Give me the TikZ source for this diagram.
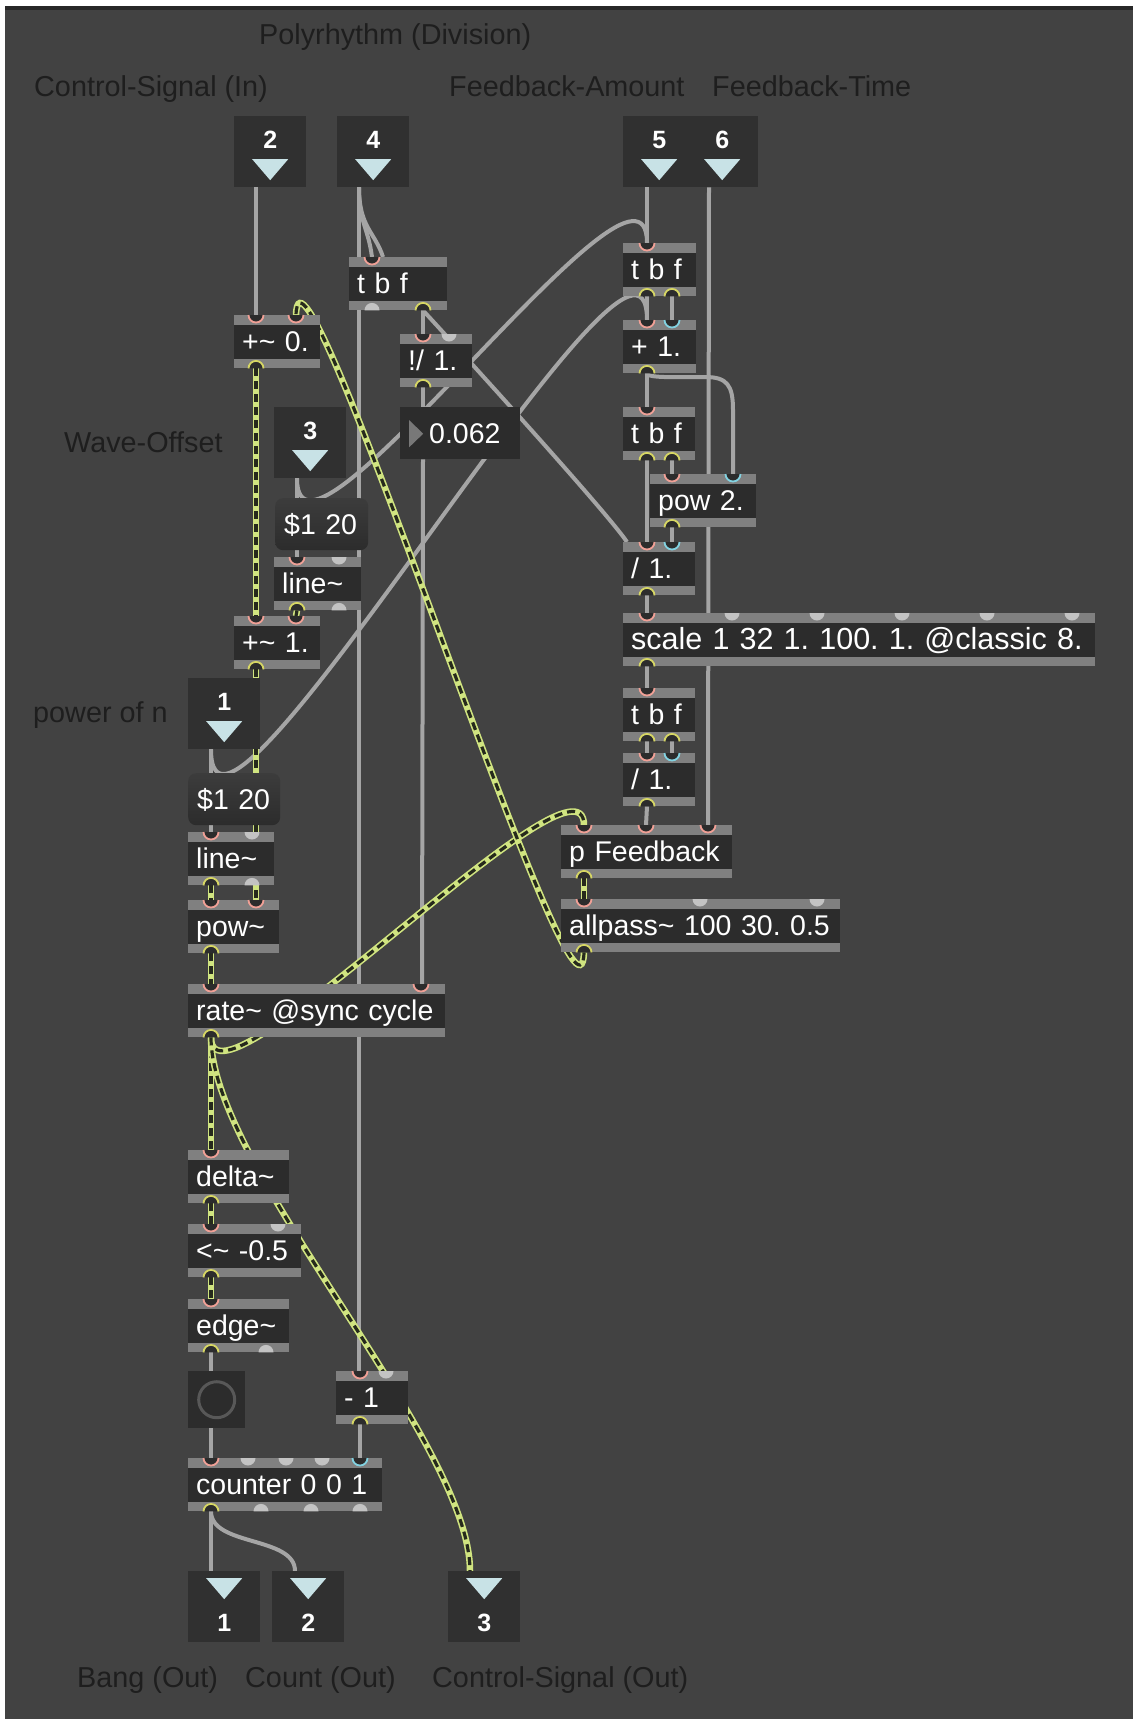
\documentclass[tikz,border=0pt]{standalone}
\usepackage{fontspec}
\setmainfont{Liberation Sans}
\frenchspacing

\definecolor{patchbg}{RGB}{66,66,66}
\definecolor{frameline}{RGB}{40,40,40}
\definecolor{boxdark}{RGB}{44,44,44}
\definecolor{iobox}{RGB}{48,48,48}
\definecolor{stripgray}{RGB}{128,128,128}
\definecolor{wiregray}{RGB}{165,165,165}
\definecolor{sigyellow}{RGB}{208,228,128}
\definecolor{sigdash}{RGB}{38,42,28}
\definecolor{hotpink}{RGB}{240,160,150}
\definecolor{coldcyan}{RGB}{130,210,225}
\definecolor{outyellow}{RGB}{215,215,100}
\definecolor{bumpgray}{RGB}{195,195,195}
\definecolor{arrowcyan}{RGB}{200,226,230}
\definecolor{cmtgray}{RGB}{30,30,30}
\definecolor{msgtop}{RGB}{60,60,60}
\definecolor{msgbot}{RGB}{44,44,44}
\definecolor{ringgray}{RGB}{88,88,88}
\definecolor{numtri}{RGB}{120,120,120}

\pgfdeclarelayer{back}
\pgfdeclarelayer{wires}
\pgfsetlayers{back,wires,main}

\newcommand{\objfont}{\fontsize{28.5}{30}\selectfont}
\newcommand{\cmtfont}{\fontsize{28.8}{31}\selectfont}
\newcommand{\numfont}{\fontsize{25}{28}\selectfont\bfseries}

% inlets hang from the top edge, outlets sit on the bottom edge
\newcommand{\inl}[3]{%
  \fill[boxdark] ([xshift=#2]#1.north west) ++(-7.5,0) arc[start angle=180,end angle=0,radius=7.5] -- cycle;
  \draw[#3,line width=1.8] ([xshift=#2]#1.north west) ++(-7.5,0) arc[start angle=180,end angle=0,radius=7.5];}
\newcommand{\inlidle}[2]{%
  \fill[bumpgray] ([xshift=#2]#1.north west) ++(-7.5,0) arc[start angle=180,end angle=0,radius=7.5] -- cycle;}
\newcommand{\outl}[3]{%
  \fill[boxdark] ([xshift=#2]#1.south west) ++(-7.5,0) arc[start angle=180,end angle=360,radius=7.5] -- cycle;
  \draw[#3,line width=1.8] ([xshift=#2]#1.south west) ++(-7.5,0) arc[start angle=180,end angle=360,radius=7.5];}
\newcommand{\outlidle}[2]{%
  \fill[bumpgray] ([xshift=#2]#1.south west) ++(-7.5,0) arc[start angle=180,end angle=360,radius=7.5] -- cycle;}

\tikzset{
  obj/.style={fill=boxdark, anchor=north west, minimum height=53, inner xsep=8,
    inner ysep=0, text width=#1-16, align=left, text height=20, text depth=0,
    font=\objfont, text=white,
    path picture={
      \fill[stripgray] (path picture bounding box.north west)
        rectangle ([yshift=-10]path picture bounding box.north east);
      \fill[stripgray] (path picture bounding box.south west)
        rectangle ([yshift=9]path picture bounding box.south east);
    }},
  msg/.style={top color=msgtop, bottom color=msgbot, rounded corners=8,
    anchor=north west, minimum height=52, inner xsep=9, inner ysep=0,
    text width=#1-18, align=left, text height=20, text depth=0,
    font=\objfont, text=white},
  numbox/.style={fill=boxdark, anchor=north west, minimum height=52, inner xsep=9,
    inner ysep=0, text width=102, align=left, text height=20, text depth=0,
    font=\objfont, text=white,
    path picture={
      \fill[numtri] ([xshift=9,yshift=-13]path picture bounding box.north west)
        -- ([xshift=9,yshift=-40]path picture bounding box.north west)
        -- ([xshift=23,yshift=-26.5]path picture bounding box.north west) -- cycle;
    }},
  inbox/.style={fill=iobox, anchor=north west, minimum width=72, minimum height=71,
    inner sep=0, text height=19, text depth=25, font=\numfont, text=white,
    path picture={
      \fill[arrowcyan] ([xshift=-18,yshift=-43]path picture bounding box.north)
        -- ([xshift=18,yshift=-43]path picture bounding box.north)
        -- ([yshift=-64]path picture bounding box.north) -- cycle;
    }},
  outbox/.style={fill=iobox, anchor=north west, minimum width=72, minimum height=71,
    inner sep=0, text height=50, text depth=1, font=\numfont, text=white,
    path picture={
      \fill[arrowcyan] ([xshift=-18,yshift=-7]path picture bounding box.north)
        -- ([xshift=18,yshift=-7]path picture bounding box.north)
        -- ([yshift=-28]path picture bounding box.north) -- cycle;
    }},
  bangbox/.style={fill=boxdark, anchor=north west, minimum size=57, inner sep=0,
    path picture={
      \draw[ringgray, line width=3] (path picture bounding box.center) circle[radius=18];
    }},
  cmt/.style={anchor=base west, inner sep=0, font=\cmtfont, text=cmtgray},
  ctl/.style={draw=wiregray, line width=4},
  sig/.style={draw=sigyellow, line width=6.5,
    postaction={draw=sigdash, line width=3.2, dash pattern=on 8 off 5}},
}

\begin{document}
\begin{tikzpicture}[x=1pt, y=-1pt]
  \useasboundingbox (0,0) rectangle (1133,1719);
  \begin{pgfonlayer}{back}
    \fill[white] (0,0) rectangle (1133,1719);
    \fill[patchbg] (5,6) rectangle (1133,1719);
    \fill[frameline] (5,6) rectangle (1133,10);
  \end{pgfonlayer}

  % comments
  \node[cmt] (cPoly) at (259,44) {Polyrhythm (Division)};
  \node[cmt] (cCtlIn) at (34,96) {Control-Signal (In)};
  \node[cmt] (cFbAmt) at (449,96) {Feedback-Amount};
  \node[cmt] (cFbTime) at (712,96) {Feedback-Time};
  \node[cmt] (cWave) at (64,452) {Wave-Offset};
  \node[cmt] (cPow) at (33,722) {power of n};
  \node[cmt] (cBang) at (77,1687) {Bang (Out)};
  \node[cmt] (cCount) at (245,1687) {Count (Out)};
  \node[cmt] (cCtlOut) at (432,1687) {Control-Signal (Out)};

  % inlets and outlets
  \node[inbox] (in2) at (234,116) {2};
  \node[inbox] (in4) at (337,116) {4};
  \node[inbox] (in5) at (623,116) {5};
  \node[inbox] (in6) at (686,116) {6};
  \node[inbox] (in3) at (274,407) {3};
  \node[inbox] (in1) at (188,678) {1};
  \node[outbox] (out1) at (188,1571) {1};
  \node[outbox] (out2) at (272,1571) {2};
  \node[outbox] (out3) at (448,1571) {3};

  % left column
  \node[obj=98] (tbfA) at (349,257) {t b f};
  \node[obj=86] (addA) at (234,315) {+\textasciitilde{} 0.};
  \node[obj=72] (rdiv) at (400,334) {!/ 1.};
  \node[numbox] (numA) at (400,407) {\hspace*{20pt}0.062};
  \node[msg=93] (msgA) at (275,498) {\$1 20};
  \node[obj=87] (lineA) at (274,557) {line\textasciitilde};
  \node[obj=86] (addB) at (234,616) {+\textasciitilde{} 1.};
  \node[msg=92] (msgB) at (188,773) {\$1 20};
  \node[obj=86] (lineB) at (188,832) {line\textasciitilde};
  \node[obj=91] (powA) at (188,900) {pow\textasciitilde};
  \node[obj=257] (rate) at (188,984) {rate\textasciitilde{} @sync cycle};
  \node[obj=101] (delta) at (188,1150) {delta\textasciitilde};
  \node[obj=113] (ltA) at (188,1224) {<\textasciitilde{} -0.5};
  \node[obj=101] (edge) at (188,1299) {edge\textasciitilde};
  \node[bangbox] (bang) at (188,1371) {};
  \node[obj=72] (subA) at (336,1371) {- 1};
  \node[obj=194] (counter) at (188,1458) {counter 0 0 1};

  % right column
  \node[obj=73] (tbfR) at (623,243) {t b f};
  \node[obj=73] (addC) at (623,320) {+ 1.};
  \node[obj=72] (tbfM) at (623,407) {t b f};
  \node[obj=106] (pow2) at (650,474) {pow 2.};
  \node[obj=72] (divA) at (623,542) {/ 1.};
  \node[obj=472, font=\fontsize{30.5}{32}\selectfont] (scale) at (623,613) {scale 1 32 1. 100. 1. @classic 8.};
  \node[obj=72] (tbfL) at (623,688) {t b f};
  \node[obj=72] (divB) at (623,753) {/ 1.};
  \node[obj=171] (pFb) at (561,825) {p Feedback};
  \node[obj=279] (allp) at (561,899) {allpass\textasciitilde{} 100 30. 0.5};

  % ports
  \inl{tbfA}{23}{hotpink} \outlidle{tbfA}{23} \outl{tbfA}{74}{outyellow}
  \inl{addA}{22}{hotpink} \inl{addA}{62}{hotpink} \outl{addA}{22}{outyellow}
  \inl{rdiv}{23}{hotpink} \inlidle{rdiv}{49} \outl{rdiv}{23}{outyellow}
  \inl{lineA}{23}{hotpink} \inlidle{lineA}{65} \outl{lineA}{23}{outyellow} \outlidle{lineA}{65}
  \inl{addB}{22}{hotpink} \inl{addB}{62}{hotpink} \outl{addB}{22}{outyellow}
  \inl{lineB}{23}{hotpink} \inlidle{lineB}{64} \outl{lineB}{23}{outyellow} \outlidle{lineB}{64}
  \inl{powA}{23}{hotpink} \inl{powA}{68}{hotpink} \outl{powA}{23}{outyellow}
  \inl{rate}{23}{hotpink} \inl{rate}{233}{hotpink} \outl{rate}{23}{outyellow}
  \inl{delta}{23}{hotpink} \outl{delta}{23}{outyellow}
  \inl{ltA}{23}{hotpink} \inlidle{ltA}{90} \outl{ltA}{23}{outyellow}
  \inl{edge}{23}{hotpink} \outl{edge}{23}{outyellow} \outlidle{edge}{78}
  \inl{subA}{24}{hotpink} \inlidle{subA}{50} \outl{subA}{24}{outyellow}
  \inl{counter}{23}{hotpink} \inl{counter}{172}{coldcyan}
  \foreach \dx in {60,98,134} {\inlidle{counter}{\dx}}
  \outl{counter}{23}{outyellow}
  \foreach \dx in {73,123,172} {\outlidle{counter}{\dx}}
  \inl{tbfR}{24}{hotpink} \outl{tbfR}{24}{outyellow} \outl{tbfR}{49}{outyellow}
  \inl{addC}{24}{hotpink} \inl{addC}{49}{coldcyan} \outl{addC}{24}{outyellow}
  \inl{tbfM}{24}{hotpink} \outl{tbfM}{24}{outyellow} \outl{tbfM}{49}{outyellow}
  \inl{pow2}{22}{hotpink} \inl{pow2}{83}{coldcyan} \outl{pow2}{22}{outyellow}
  \inl{divA}{24}{hotpink} \inl{divA}{49}{coldcyan} \outl{divA}{24}{outyellow}
  \inl{scale}{24}{hotpink} \outl{scale}{24}{outyellow}
  \foreach \dx in {109,194,279,364,449} {\inlidle{scale}{\dx}}
  \inl{tbfL}{24}{hotpink} \outl{tbfL}{24}{outyellow} \outl{tbfL}{49}{outyellow}
  \inl{divB}{24}{hotpink} \inl{divB}{49}{coldcyan} \outl{divB}{24}{outyellow}
  \inl{pFb}{23}{hotpink} \inl{pFb}{85}{hotpink} \inl{pFb}{147}{hotpink} \outl{pFb}{23}{outyellow}
  \inl{allp}{23}{hotpink} \inlidle{allp}{139} \inlidle{allp}{256} \outl{allp}{23}{outyellow}

  \begin{pgfonlayer}{wires}
    % control connections
    \draw[ctl] ([xshift=22]in2.south west) -- ([xshift=22]addA.north west);
    \draw[ctl] ([xshift=22]in4.south west) -- ([xshift=23]subA.north west);
    \draw[ctl] ([xshift=22]in4.south west) .. controls +(0,35) and +(-4,-30) .. ([xshift=23]tbfA.north west);
    \draw[ctl] ([xshift=22]in4.south west) .. controls +(0,40) and +(-8,-25) .. ([xshift=34]tbfA.north west);
    \draw[ctl] ([xshift=24]in5.south west) -- ([xshift=24]tbfR.north west);
    \draw[ctl] ([xshift=23]in6.south west) -- ([xshift=147]pFb.north west);
    \draw[ctl] ([xshift=74]tbfA.south west) -- ([xshift=23]rdiv.north west);
    \draw[ctl] ([xshift=74]tbfA.south west) .. controls +(25,27) and +(-20,-30) .. ([xshift=4]divA.north west);
    \draw[ctl] ([xshift=23]rdiv.south west) -- ([xshift=23]numA.north west);
    \draw[ctl] ([xshift=23]numA.south west) -- ([xshift=234]rate.north west);
    \draw[ctl] ([xshift=23]in3.south west) -- ([xshift=22]msgA.north west);
    \draw[ctl] ([xshift=23]in3.south west) .. controls +(0,130) and +(0,-130) .. ([xshift=24]tbfR.north west);
    \draw[ctl] ([xshift=22]msgA.south west) -- ([xshift=23]lineA.north west);
    \draw[ctl] ([xshift=23]in1.south west) -- ([xshift=23]msgB.north west);
    \draw[ctl] ([xshift=23]in1.south west) .. controls +(0,170) and +(0,-170) .. ([xshift=24]addC.north west);
    \draw[ctl] ([xshift=23]msgB.south west) -- ([xshift=23]lineB.north west);
    \draw[ctl] ([xshift=24]tbfR.south west) -- ([xshift=24]addC.north west);
    \draw[ctl] ([xshift=49]tbfR.south west) -- ([xshift=49]addC.north west);
    \draw[ctl] ([xshift=24]addC.south west) -- ([xshift=24]tbfM.north west);
    \draw[ctl] ([xshift=24]addC.south west) .. controls +(0,5) and +(-25,0) .. (705,377)
      .. controls +(22,0) and +(0,-25) .. (733,410) -- ([xshift=83]pow2.north west);
    \draw[ctl] ([xshift=24]tbfM.south west) -- ([xshift=24]divA.north west);
    \draw[ctl] ([xshift=49]tbfM.south west) -- ([xshift=22]pow2.north west);
    \draw[ctl] ([xshift=22]pow2.south west) -- ([xshift=49]divA.north west);
    \draw[ctl] ([xshift=24]divA.south west) -- ([xshift=24]scale.north west);
    \draw[ctl] ([xshift=24]scale.south west) -- ([xshift=24]tbfL.north west);
    \draw[ctl] ([xshift=24]tbfL.south west) -- ([xshift=24]divB.north west);
    \draw[ctl] ([xshift=49]tbfL.south west) -- ([xshift=49]divB.north west);
    \draw[ctl] ([xshift=24]divB.south west) -- ([xshift=85]pFb.north west);
    \draw[ctl] ([xshift=23]edge.south west) -- ([xshift=23]bang.north west);
    \draw[ctl] ([xshift=23]bang.south west) -- ([xshift=23]counter.north west);
    \draw[ctl] ([xshift=24]subA.south west) -- ([xshift=172]counter.north west);
    \draw[ctl] ([xshift=23]counter.south west) -- ([xshift=23]out1.north west);
    \draw[ctl] ([xshift=23]counter.south west) .. controls +(0,35) and +(0,-35) .. ([xshift=23]out2.north west);
    % signal connections
    \draw[sig] ([xshift=22]addA.south west) -- ([xshift=22]addB.north west);
    \draw[sig] ([xshift=23]lineA.south west) -- ([xshift=62]addB.north west);
    \draw[sig] ([xshift=22]addB.south west) -- ([xshift=68]powA.north west);
    \draw[sig] ([xshift=23]lineB.south west) -- ([xshift=23]powA.north west);
    \draw[sig] ([xshift=23]powA.south west) -- ([xshift=23]rate.north west);
    \draw[sig] ([xshift=23]rate.south west) -- ([xshift=23]delta.north west);
    \draw[sig] ([xshift=23]delta.south west) -- ([xshift=23]ltA.north west);
    \draw[sig] ([xshift=23]ltA.south west) -- ([xshift=23]edge.north west);
    \draw[sig] ([xshift=23]rate.south west) .. controls +(0,90) and +(0,-90) .. ([xshift=23]pFb.north west);
    \draw[sig] ([xshift=23]rate.south west) .. controls +(0,130) and +(0,-130) .. ([xshift=22]out3.north west);
    \draw[sig] ([xshift=23]pFb.south west) -- ([xshift=23]allp.north west);
    \draw[sig] ([xshift=23]allp.south west) .. controls +(-4,128) and +(4,-125) .. ([xshift=62]addA.north west);
  \end{pgfonlayer}
\end{tikzpicture}
\end{document}
